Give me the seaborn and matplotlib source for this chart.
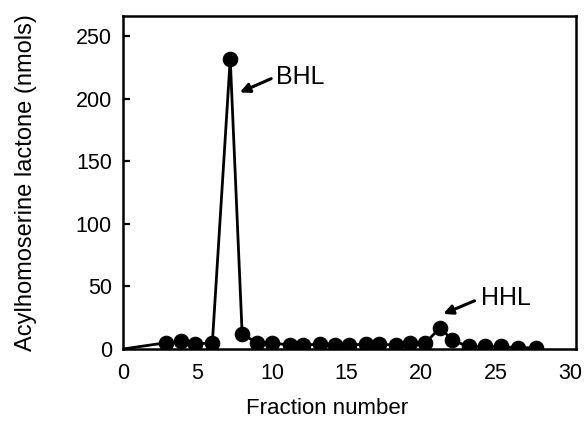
import matplotlib
matplotlib.use("Agg")
import seaborn as sns
from matplotlib import pyplot as plt

# fraction number vs acylhomoserine lactone (nmols)
fractions = [2.9, 3.9, 4.85, 6.0, 7.2, 8.0, 9.0, 10.0, 11.2, 12.1, 13.2, 14.2, 15.2,
             16.3, 17.2, 18.3, 19.3, 20.3, 21.3, 22.1, 23.2, 24.3, 25.4, 26.5, 27.7]
nmols = [5, 6, 4, 5, 232, 12, 5, 5, 3, 3, 4, 3, 3,
         4, 4, 3, 5, 5, 17, 7, 2, 2, 2, 1, 1]
# the trace starts from the origin, no marker there
start_x = [0]
start_y = [0]

yticks = [0, 50, 100, 150, 200, 250]
xticks = [0, 5, 10, 15, 20, 25, 30]

sns.set_style("ticks")
plt.rcParams['font.family'] = ['Liberation Sans', 'DejaVu Sans']
plt.rcParams['text.color'] = 'black'
plt.rcParams['xtick.color'] = 'black'
plt.rcParams['ytick.color'] = 'black'
plt.rcParams['axes.labelcolor'] = 'black'

fig = plt.figure(figsize=(5.87, 4.22), dpi=100)
ax = fig.add_axes([0.2095, 0.173, 0.7715, 0.789])

line_x = start_x + fractions
line_y = start_y + nmols
sns.lineplot(x=line_x, y=line_y, ax=ax, color='black', lw=2.0, sort=False,
             marker='o', markersize=10.5, markevery=list(range(1, len(line_x))),
             markeredgecolor='black', markerfacecolor='black')

ax.set_xlim(0, 30.4)
ax.set_ylim(0, 266)
ax.set_xticks(xticks)
ax.set_yticks(yticks)
ax.tick_params(axis='y', direction='in', length=5, width=1.6, labelsize=15.5, pad=8)
ax.tick_params(axis='x', length=0, labelsize=15.5, pad=10)
for sp in ax.spines.values():
    sp.set_linewidth(1.8)
    sp.set_color('black')

ax.set_xlabel('Fraction number', fontsize=16)
ax.set_ylabel('Acylhomoserine lactone (nmols)', fontsize=17)
ax.xaxis.set_label_coords(0.45, -0.148)
ax.yaxis.set_label_coords(-0.19, 0.5)

arrow = dict(arrowstyle='-|>', lw=2.2, color='black', mutation_scale=14,
             shrinkA=0, shrinkB=0)
ax.annotate('', xy=(7.85, 205), xytext=(9.95, 216), arrowprops=arrow)
ax.text(10.3, 217, 'BHL', fontsize=18, ha='left', va='center')
ax.annotate('', xy=(21.5, 28), xytext=(23.6, 38.5), arrowprops=arrow)
ax.text(24.0, 40.5, 'HHL', fontsize=18, ha='left', va='center')

fig.savefig('out.png', dpi=100)
